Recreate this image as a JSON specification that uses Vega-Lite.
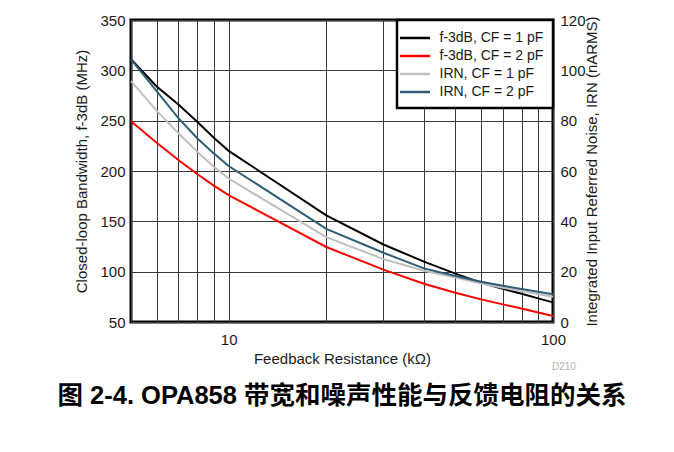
{
  "$schema": "https://vega.github.io/schema/vega-lite/v6.json",
  "width": 422,
  "height": 302,
  "autosize": "none",
  "padding": {"left": 131, "top": 20, "right": 121, "bottom": 130},
  "background": "white",
  "config": {
    "view": {"stroke": "#000000", "strokeWidth": 3},
    "font": "Liberation Sans",
    "axis": {
      "labelFont": "Liberation Sans",
      "labelFontSize": 15,
      "labelColor": "#1a1a1a",
      "labelFlush": false,
      "titleFont": "Liberation Sans",
      "titleFontSize": 15,
      "titleFontWeight": "normal",
      "titleColor": "#1a1a1a",
      "domain": false,
      "ticks": false,
      "gridColor": "#3a3a3a",
      "gridOpacity": 1,
      "gridWidth": 1
    },
    "legend": {
      "orient": "top-right",
      "offset": 0,
      "strokeColor": "#000000",
      "strokeWidth": 2.5,
      "fillColor": "#ffffff",
      "padding": 9,
      "symbolType": "M-2,0H2",
      "symbolSize": 225,
      "symbolStrokeWidth": 2.5,
      "labelFont": "Liberation Sans",
      "labelFontSize": 14,
      "labelColor": "#1a1a1a",
      "labelOffset": 15.5,
      "rowPadding": 2,
      "labelLimit": 200
    }
  },
  "title": {
    "text": "图 2-4. OPA858 带宽和噪声性能与反馈电阻的关系",
    "orient": "bottom",
    "anchor": "middle",
    "font": "Liberation Sans, Noto Sans CJK SC",
    "fontSize": 25.5,
    "fontWeight": "bold",
    "color": "#000000",
    "offset": 12
  },
  "datasets": {
    "bandwidth": [
      {"R": 5, "f": 311, "series": "f-3dB, CF = 1 pF"},
      {"R": 6, "f": 284, "series": "f-3dB, CF = 1 pF"},
      {"R": 7, "f": 266, "series": "f-3dB, CF = 1 pF"},
      {"R": 8, "f": 249, "series": "f-3dB, CF = 1 pF"},
      {"R": 9, "f": 233, "series": "f-3dB, CF = 1 pF"},
      {"R": 10, "f": 220, "series": "f-3dB, CF = 1 pF"},
      {"R": 20, "f": 156, "series": "f-3dB, CF = 1 pF"},
      {"R": 30, "f": 127, "series": "f-3dB, CF = 1 pF"},
      {"R": 40, "f": 110, "series": "f-3dB, CF = 1 pF"},
      {"R": 50, "f": 98, "series": "f-3dB, CF = 1 pF"},
      {"R": 60, "f": 89, "series": "f-3dB, CF = 1 pF"},
      {"R": 70, "f": 83, "series": "f-3dB, CF = 1 pF"},
      {"R": 80, "f": 78, "series": "f-3dB, CF = 1 pF"},
      {"R": 90, "f": 73.5, "series": "f-3dB, CF = 1 pF"},
      {"R": 100, "f": 69.5, "series": "f-3dB, CF = 1 pF"},
      {"R": 5, "f": 249.5, "series": "f-3dB, CF = 2 pF"},
      {"R": 6, "f": 228, "series": "f-3dB, CF = 2 pF"},
      {"R": 7, "f": 211, "series": "f-3dB, CF = 2 pF"},
      {"R": 8, "f": 197, "series": "f-3dB, CF = 2 pF"},
      {"R": 9, "f": 185.5, "series": "f-3dB, CF = 2 pF"},
      {"R": 10, "f": 176, "series": "f-3dB, CF = 2 pF"},
      {"R": 20, "f": 124.5, "series": "f-3dB, CF = 2 pF"},
      {"R": 30, "f": 102, "series": "f-3dB, CF = 2 pF"},
      {"R": 40, "f": 88, "series": "f-3dB, CF = 2 pF"},
      {"R": 50, "f": 79, "series": "f-3dB, CF = 2 pF"},
      {"R": 60, "f": 72.5, "series": "f-3dB, CF = 2 pF"},
      {"R": 70, "f": 67.5, "series": "f-3dB, CF = 2 pF"},
      {"R": 80, "f": 63.5, "series": "f-3dB, CF = 2 pF"},
      {"R": 90, "f": 59.5, "series": "f-3dB, CF = 2 pF"},
      {"R": 100, "f": 56, "series": "f-3dB, CF = 2 pF"}
    ],
    "noise": [
      {"R": 5, "i": 95.7, "series": "IRN, CF = 1 pF"},
      {"R": 6, "i": 84, "series": "IRN, CF = 1 pF"},
      {"R": 7, "i": 75, "series": "IRN, CF = 1 pF"},
      {"R": 8, "i": 67.7, "series": "IRN, CF = 1 pF"},
      {"R": 9, "i": 61.7, "series": "IRN, CF = 1 pF"},
      {"R": 10, "i": 57, "series": "IRN, CF = 1 pF"},
      {"R": 20, "i": 33.7, "series": "IRN, CF = 1 pF"},
      {"R": 30, "i": 25, "series": "IRN, CF = 1 pF"},
      {"R": 40, "i": 20.4, "series": "IRN, CF = 1 pF"},
      {"R": 50, "i": 17.7, "series": "IRN, CF = 1 pF"},
      {"R": 60, "i": 15.3, "series": "IRN, CF = 1 pF"},
      {"R": 70, "i": 13.6, "series": "IRN, CF = 1 pF"},
      {"R": 80, "i": 12.3, "series": "IRN, CF = 1 pF"},
      {"R": 90, "i": 11.1, "series": "IRN, CF = 1 pF"},
      {"R": 100, "i": 10, "series": "IRN, CF = 1 pF"},
      {"R": 5, "i": 104.4, "series": "IRN, CF = 2 pF"},
      {"R": 6, "i": 91.7, "series": "IRN, CF = 2 pF"},
      {"R": 7, "i": 81, "series": "IRN, CF = 2 pF"},
      {"R": 8, "i": 73, "series": "IRN, CF = 2 pF"},
      {"R": 9, "i": 67, "series": "IRN, CF = 2 pF"},
      {"R": 10, "i": 62, "series": "IRN, CF = 2 pF"},
      {"R": 20, "i": 37, "series": "IRN, CF = 2 pF"},
      {"R": 30, "i": 27.5, "series": "IRN, CF = 2 pF"},
      {"R": 40, "i": 21.3, "series": "IRN, CF = 2 pF"},
      {"R": 50, "i": 18.3, "series": "IRN, CF = 2 pF"},
      {"R": 60, "i": 16, "series": "IRN, CF = 2 pF"},
      {"R": 70, "i": 14.4, "series": "IRN, CF = 2 pF"},
      {"R": 80, "i": 13.1, "series": "IRN, CF = 2 pF"},
      {"R": 90, "i": 12, "series": "IRN, CF = 2 pF"},
      {"R": 100, "i": 11, "series": "IRN, CF = 2 pF"}
    ]
  },
  "layer": [
    {
      "encoding": {
        "x": {
          "field": "R",
          "type": "quantitative",
          "scale": {"type": "log", "domain": [5, 100], "nice": false},
          "axis": {
            "title": "Feedback Resistance (kΩ)",
            "values": [5, 6, 7, 8, 9, 10, 20, 30, 40, 50, 60, 70, 80, 90, 100],
            "labelExpr": "datum.value == 10 || datum.value == 100 ? datum.value : ''",
            "labelPadding": 10,
            "titlePadding": 4,
            "grid": true
          }
        },
        "y": {
          "field": "f",
          "type": "quantitative",
          "scale": {"domain": [50, 350], "nice": false, "zero": false},
          "axis": {
            "title": "Closed-loop Bandwidth, f-3dB (MHz)",
            "values": [50, 100, 150, 200, 250, 300, 350],
            "labelPadding": 6,
            "titlePadding": 10,
            "grid": true
          }
        }
      },
      "layer": [
        {
          "data": {"name": "bandwidth"},
          "mark": {"type": "line", "strokeWidth": 2},
          "encoding": {
            "color": {
              "field": "series",
              "type": "nominal",
              "scale": {
                "domain": ["f-3dB, CF = 1 pF", "f-3dB, CF = 2 pF", "IRN, CF = 1 pF", "IRN, CF = 2 pF"],
                "range": ["#000000", "#ff0000", "#c0c0c0", "#2e5e77"]
              },
              "legend": {"title": null}
            }
          }
        },
        {
          "data": {"values": [{"R": 100, "f": 50, "code": "D210"}]},
          "mark": {"type": "text", "align": "left", "baseline": "middle", "dx": -1, "dy": 45, "fontSize": 10, "color": "#b0b0b0", "font": "Liberation Sans"},
          "encoding": {"text": {"field": "code"}}
        }
      ]
    },
    {
      "data": {"name": "noise"},
      "mark": {"type": "line", "strokeWidth": 2},
      "encoding": {
        "x": {"field": "R", "type": "quantitative", "scale": {"type": "log", "domain": [5, 100], "nice": false}},
        "y": {
          "field": "i",
          "type": "quantitative",
          "scale": {"domain": [0, 120], "nice": false},
          "axis": {
            "orient": "right",
            "title": "Integrated Input Referred Noise, IRN (nARMS)",
            "titleAngle": 270,
            "values": [0, 20, 40, 60, 80, 100, 120],
            "labelPadding": 7,
            "titlePadding": 14,
            "grid": false
          }
        },
        "color": {"field": "series", "type": "nominal", "legend": {"title": null}}
      }
    }
  ],
  "resolve": {"scale": {"y": "independent"}}
}
